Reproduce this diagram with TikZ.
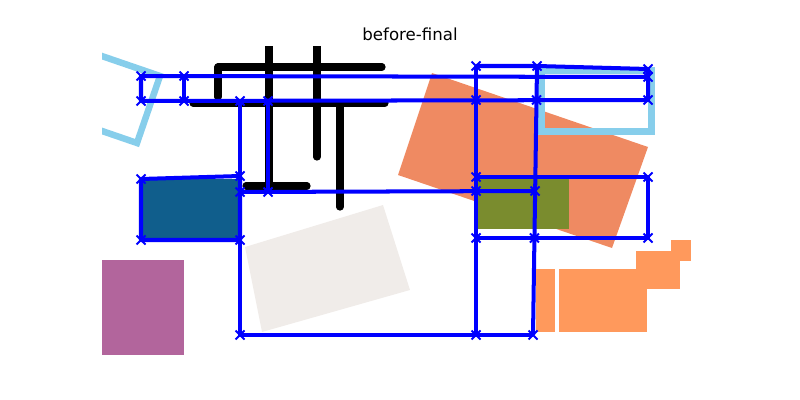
\documentclass[tikz,border=0pt]{standalone}
\usepackage{fontspec}
\setmainfont{DejaVu Sans}
\definecolor{skyb}{RGB}{135,206,235}
\definecolor{salmonc}{RGB}{239,138,98}
\definecolor{olivec}{RGB}{122,140,46}
\definecolor{tealc}{RGB}{16,94,140}
\definecolor{pinkc}{RGB}{178,101,156}
\definecolor{greyc}{RGB}{240,236,233}
\definecolor{orangec}{RGB}{255,153,92}
\definecolor{pureblue}{RGB}{0,0,255}
\tikzset{
  blueline/.style={draw=pureblue, line width=2.9pt, line join=round},
  xmark/.style={draw=pureblue, line width=1.4pt},
  blackline/.style={draw=black, line width=5.2pt, line cap=round},
  skyline/.style={draw=skyb, line width=4.7pt}
}
\begin{document}
\begin{tikzpicture}[x=0.0254cm,y=-0.0254cm]
\useasboundingbox (0,0) rectangle (800,400);
\node[font=\fontsize{12pt}{14pt}\selectfont] (title) at (410,34) {before-final};
\begin{scope}
\clip (102,47) rectangle (720,355);
% rotated orange rectangle
\fill[salmonc] (432,73) -- (648,147) -- (612,248) -- (398,175) -- cycle;
% light grey rotated rectangle
\fill[greyc] (245,247) -- (383,205) -- (410,290) -- (262,332) -- cycle;
% olive rectangle
\fill[olivec] (476,177) rectangle (569,229);
% teal rectangle
\fill[tealc] (141,179) rectangle (240,240);
% pink rectangle
\fill[pinkc] (102,260) rectangle (184,355);
% orange stepped shape
\fill[orangec] (536,269) rectangle (555,332);
\fill[orangec] (559,269) rectangle (647,332);
\fill[orangec] (636,251) rectangle (680,289);
\fill[orangec] (671,240) rectangle (691,261);
% light blue shapes
\draw[skyline] (93,53) -- (160,76) -- (137,143) -- (70,120) -- cycle;
\draw[skyline] (541.5,70.5) rectangle (651.5,131.5);
% black lines
\draw[blackline] (218,67) -- (382,67);
\draw[blackline] (218,67) -- (218,97);
\draw[blackline] (193,103) -- (385,103);
\draw[blackline] (269,40) -- (269,187);
\draw[blackline] (317,40) -- (317,157);
\draw[blackline] (340,105) -- (340,207);
\draw[blackline] (246,186) -- (307,186);
\end{scope}
% blue polygons
\draw[blueline] (141,76) -- (648,77) -- (648,100) -- (141,101) -- cycle;
\draw[blueline] (184,76) -- (184,101);
\draw[blueline] (476,66) -- (537,66) -- (648,69) -- (648,77);
\draw[blueline] (476,66) -- (476,335);
\draw[blueline] (537,66) -- (533,335);
\draw[blueline] (240,101) -- (240,335) -- (533,335);
\draw[blueline] (268,101) -- (268,192);
\draw[blueline] (240,192) -- (535.1,191);
\draw[blueline] (476,177) -- (648,177) -- (648,238) -- (476,238) -- cycle;
\draw[blueline] (141,179) -- (240,176) -- (240,240) -- (141,240) -- cycle;
% markers
\foreach \mx/\my in {141/76,141/101,184/76,184/101,648/77,648/100,648/69,
  476/66,537/66,476/100,536.5/100,476/177,476/191,535.1/191,476/238,534.4/238,
  476/335,533/335,648/177,648/238,240/101,268/101,240/176,240/192,268/192,
  240/240,240/335,141/179,141/240}
  \draw[xmark] (\mx,\my) +(-4.5,-4.5) -- +(4.5,4.5) +(-4.5,4.5) -- +(4.5,-4.5);
\end{tikzpicture}
\end{document}
